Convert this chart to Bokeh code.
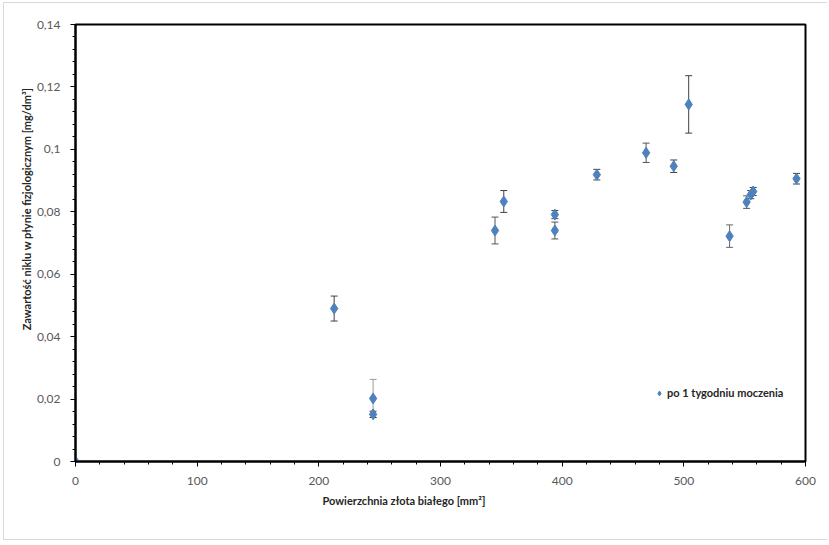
import numpy as np
from bokeh.plotting import figure
from bokeh.models import (ColumnDataSource, Whisker, TeeHead, FixedTicker, Legend, LegendItem,
                          Title, Range1d)
from bokeh.embed import file_html
from bokeh.resources import INLINE

# ---- data ----
area_mm2 = [0, 212.6, 244.6, 244.6, 344.8, 352.0, 394.0, 394.0, 428.5, 469.0, 491.7, 504.0,
            537.6, 551.6, 555.0, 557.0, 592.6]
nickel = [0.0, 0.0490, 0.0202, 0.0151, 0.0740, 0.0833, 0.0791, 0.0740, 0.0919, 0.0989, 0.0946,
          0.1144, 0.0722, 0.0831, 0.0855, 0.0865, 0.0906]
nickel_err = [0.0, 0.0040, 0.0061, 0.0010, 0.0043, 0.0035, 0.0013, 0.0027, 0.0017, 0.0031, 0.0020,
              0.0092, 0.0036, 0.0020, 0.0013, 0.0013, 0.0017]
err_color = ["#404040", "#404040", "#9a9a9a", "#404040", "#555555", "#404040", "#404040", "#555555",
             "#404040", "#555555", "#404040", "#404040", "#666666", "#555555", "#404040", "#404040",
             "#404040"]

x_ticks = [0, 100, 200, 300, 400, 500, 600]
x_tick_labels = ["0", "100", "200", "300", "400", "500", "600"]
y_ticks = [0, 0.02, 0.04, 0.06, 0.08, 0.10, 0.12, 0.14]
y_tick_labels = ["0", "0,02", "0,04", "0,06", "0,08", "0,1", "0,12", "0,14"]

series_name = "po 1 tygodniu moczenia"
x_title = "Powierzchnia złota białego  [mm²]"
y_title = "Zawartość  niklu w płynie  fizjologicznym  [mg/dm³]"

FONT = "Lato"
BLUE = "#4F81BD"

src = ColumnDataSource(dict(
    x=area_mm2, y=nickel,
    upper=[v + e for v, e in zip(nickel, nickel_err)],
    lower=[v - e for v, e in zip(nickel, nickel_err)],
    ecol=err_color,
))

p = figure(width=824, height=538, output_backend="svg", toolbar_location=None,
           x_range=Range1d(0, 600), y_range=Range1d(0, 0.14),
           min_border_left=71, min_border_right=23, min_border_top=21, min_border_bottom=80)
p.styles = {"margin-left": "3px", "margin-top": "2px",
            "border-left": "1px solid #d9d9d9", "border-top": "1px solid #d9d9d9",
            "border-bottom": "1px solid #d9d9d9", "border-right": "none"}
p.background_fill_color = "white"
p.border_fill_color = "white"
p.outline_line_color = "black"
p.outline_line_width = 2
p.xgrid.visible = False
p.ygrid.visible = False

# axes
p.xaxis.ticker = FixedTicker(ticks=x_ticks, minor_ticks=list(np.arange(0, 601, 20)))
p.yaxis.ticker = FixedTicker(ticks=y_ticks, minor_ticks=list(np.round(np.arange(0, 0.1401, 0.004), 4)))
p.xaxis.major_label_overrides = {t: l for t, l in zip(x_ticks, x_tick_labels)}
p.yaxis.major_label_overrides = {t: l for t, l in zip(y_ticks, y_tick_labels)}
for ax in (p.xaxis, p.yaxis):
    ax.axis_line_color = "black"
    ax.axis_line_width = 2
    ax.major_tick_line_color = "black"
    ax.minor_tick_line_color = "black"
    ax.major_tick_in = 0
    ax.major_tick_out = 5
    ax.minor_tick_in = 0
    ax.minor_tick_out = 3
    ax.major_label_text_font = FONT
    ax.major_label_text_font_size = "12px"
    ax.major_label_text_color = "#595959"
p.xaxis.major_label_standoff = 10
p.yaxis.major_label_standoff = 10

# axis titles (placed off-centre as in the original)
p.add_layout(Title(text=y_title, align="right", offset=55, standoff=2,
                   text_font=FONT, text_font_size="11px", text_font_style="bold",
                   text_color="#262626"), "left")
p.add_layout(Title(text=x_title, align="left", offset=247, standoff=8,
                   text_font=FONT, text_font_size="11px", text_font_style="bold",
                   text_color="#262626"), "below")

# error bars
wh = Whisker(source=src, base="x", upper="upper", lower="lower", dimension="height",
             line_color="ecol", line_width=1,
             upper_head=TeeHead(size=7, line_color="ecol", line_width=1),
             lower_head=TeeHead(size=7, line_color="ecol", line_width=1),
             level="underlay")
p.add_layout(wh)

r = p.scatter("x", "y", source=src, marker="diamond", size=11, fill_color=BLUE,
              line_color=BLUE)

leg = Legend(items=[LegendItem(label=series_name, renderers=[r])], location=(578, 62),
             border_line_color=None, background_fill_alpha=0, padding=0, margin=0,
             spacing=0, glyph_width=12, glyph_height=12, label_height=12,
             label_standoff=2, label_text_font=FONT, label_text_font_size="11px",
             label_text_font_style="bold", label_text_color="#262626")
p.add_layout(leg)

open("out.html", "w").write(file_html(p, INLINE))
